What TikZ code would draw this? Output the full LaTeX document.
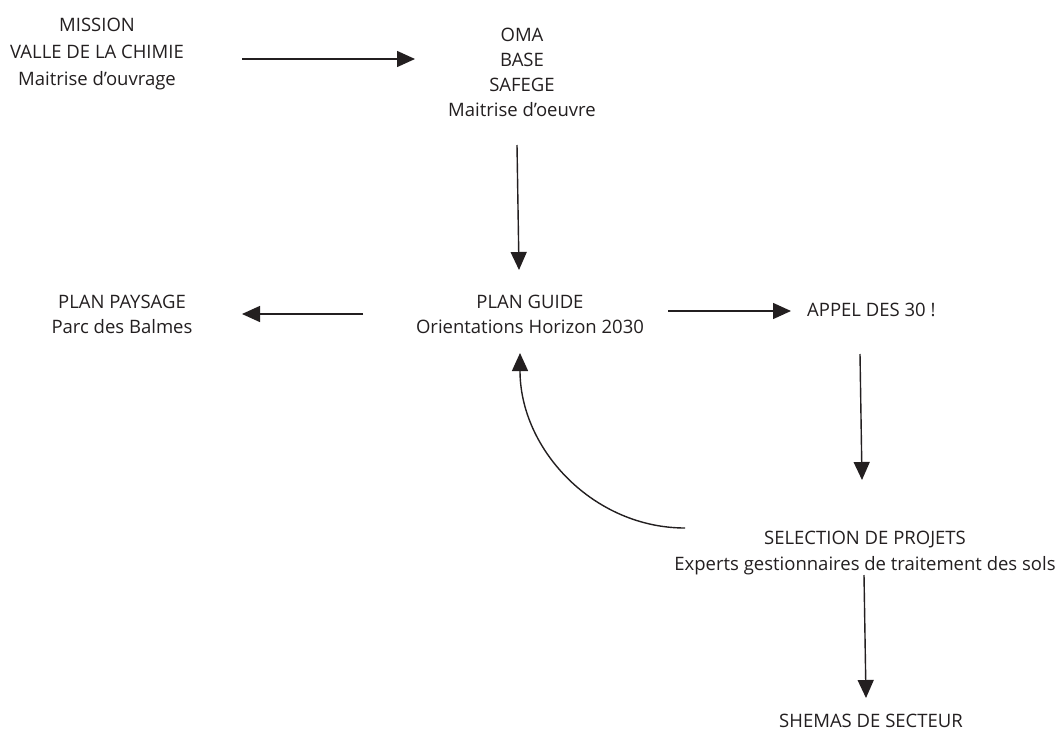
\documentclass[tikz,border=0pt]{standalone}
\usepackage{fontspec}
\setmainfont{Open Sans}
\usetikzlibrary{arrows.meta}
\definecolor{ink}{RGB}{35,31,32}
\begin{document}
\begin{tikzpicture}[x=1pt,y=-1pt,
  label/.style={inner sep=0pt, align=center, text=ink},
  body/.style={font=\fontsize{18.5}{#1}\selectfont},
  body/.default=27,
  arr/.style={draw=ink, line width=1.4pt, -{Triangle[length=18pt,width=16pt]}}]
  \useasboundingbox[fill=white] (0,0) rectangle (1062,733);

  % blocks of text
  \node[label, body=27, anchor=north] (mission) at (97,18)
    {MISSION\\VALLE DE LA CHIMIE\\Maitrise d’ouvrage};
  \node[label, body=25, anchor=north] (oma) at (522,28)
    {OMA\\BASE\\SAFEGE\\Maitrise d’oeuvre};
  \node[label, body=25, anchor=north] (guide) at (530,295)
    {PLAN GUIDE\\Orientations Horizon 2030};
  \node[label, body=25, anchor=north] (paysage) at (122,295)
    {PLAN PAYSAGE\\Parc des Balmes};
  \node[label, body, anchor=north west] (appel) at (807,303)
    {APPEL DES 30 !};
  \node[label, body=26, anchor=north] (selection) at (865,531)
    {SELECTION DE PROJETS\\Experts gestionnaires de traitement des sols};
  \node[label, body, anchor=north] (shemas) at (871,714)
    {SHEMAS DE SECTEUR};

  % connectors
  \draw[arr] ([shift={(145,41)}]mission.north) -- ([shift={(-107,31)}]oma.north);
  \draw[arr] ([shift={(-5,117)}]oma.north) -- ([shift={(-11,-25)}]guide.north);
  \draw[arr] ([shift={(-167,19)}]guide.north) -- ([shift={(120,19)}]paysage.north);
  \draw[arr] ([shift={(138,16)}]guide.north) -- ([shift={(-16,8)}]appel.north west);
  \draw[arr] ([shift={(53,51)}]appel.north west) -- ([shift={(-3,-51)}]selection.north);
  \draw[arr] ([shift={(-180,-3)}]selection.north)
    .. controls +(-91,0) and +(0,97) .. ([shift={(-10,58)}]guide.north);
  \draw[arr] ([shift={(-1,44)}]selection.north) -- ([shift={(-5,-16)}]shemas.north);
\end{tikzpicture}
\end{document}
